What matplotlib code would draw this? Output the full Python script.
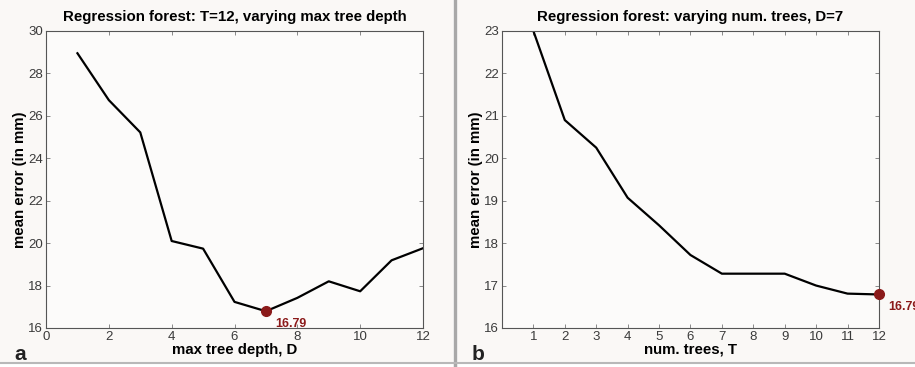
import matplotlib
matplotlib.use("Agg")
import matplotlib.pyplot as plt
from matplotlib.lines import Line2D

plt.rcParams['font.family'] = ['Liberation Sans', 'DejaVu Sans']

# Panel a data
depth = [1, 2, 3, 4, 5, 6, 7, 8, 9, 10, 11, 12]
err_depth = [28.95, 26.74, 25.22, 20.1, 19.74, 17.23, 16.79, 17.42, 18.2, 17.73, 19.19, 19.76]
# Panel b data
trees = [1, 2, 3, 4, 5, 6, 7, 8, 9, 10, 11, 12]
err_trees = [23.0, 20.9, 20.25, 19.07, 18.42, 17.72, 17.28, 17.28, 17.28, 17.0, 16.81, 16.79]

best_a = (7, 16.79)
best_b = (12, 16.79)

fig = plt.figure(figsize=(9.15, 3.67), dpi=100)
fig.patch.set_facecolor('white')

panel_bg = '#faf8f6'
fig.patches.append(plt.Rectangle((0, 0.012), 0.495, 0.988, transform=fig.transFigure,
                                 facecolor=panel_bg, edgecolor='none', zorder=-10))
fig.patches.append(plt.Rectangle((0.5, 0.012), 0.5, 0.988, transform=fig.transFigure,
                                 facecolor=panel_bg, edgecolor='none', zorder=-10))
fig.lines.append(Line2D([0.4975, 0.4975], [0.0, 1.0], transform=fig.transFigure, color='#a8a8a8', lw=2.5))
fig.lines.append(Line2D([0.0, 1.0], [0.011, 0.011], transform=fig.transFigure, color='#b8b8b8', lw=1.5))

dark_red = '#8b1a1a'
tick_col = '#3a3a3a'

def style(ax):
    ax.set_facecolor('#fcfbfa')
    for s in ax.spines.values():
        s.set_color('#555555')
        s.set_linewidth(0.8)
    ax.tick_params(direction='in', top=True, right=True, length=3, width=0.6,
                   colors='#777777', labelcolor=tick_col, labelsize=9.5, pad=2)

ax1 = fig.add_axes([0.0503, 0.1063, 0.412, 0.8093])
ax1.plot(depth, err_depth, color='black', lw=1.6)
ax1.plot([best_a[0]], [best_a[1]], 'o', color=dark_red, ms=7)
ax1.annotate(f'{best_a[1]:.2f}', best_a, xytext=(7, -11), textcoords='offset points',
             color=dark_red, fontsize=9, fontweight='bold')
ax1.set_xlim(0, 12)
ax1.set_ylim(16, 30)
ax1.set_xticks(range(0, 13, 2))
ax1.set_yticks(range(16, 31, 2))
ax1.set_title('Regression forest: T=12, varying max tree depth', fontsize=10.8, fontweight='bold', pad=7)
ax1.set_xlabel('max tree depth, D', fontsize=10.8, fontweight='bold', labelpad=0)
ax1.set_ylabel('mean error (in mm)', fontsize=10.8, fontweight='bold', labelpad=1)
style(ax1)

ax2 = fig.add_axes([0.5486, 0.1063, 0.412, 0.8093])
ax2.plot(trees, err_trees, color='black', lw=1.6)
ax2.plot([best_b[0]], [best_b[1]], 'o', color=dark_red, ms=7, clip_on=False, zorder=5)
ax2.annotate(f'{best_b[1]:.2f}', best_b, xytext=(7, -11), textcoords='offset points',
             color=dark_red, fontsize=9, fontweight='bold', annotation_clip=False)
ax2.set_xlim(0, 12)
ax2.set_ylim(16, 23)
ax2.set_xticks(range(1, 13))
ax2.set_yticks(range(16, 24))
ax2.set_title('Regression forest: varying num. trees, D=7', fontsize=10.8, fontweight='bold', pad=7)
ax2.set_xlabel('num. trees, T', fontsize=10.8, fontweight='bold', labelpad=0)
ax2.set_ylabel('mean error (in mm)', fontsize=10.8, fontweight='bold', labelpad=1)
style(ax2)

fig.text(0.022, 0.018, 'a', fontsize=15, fontweight='bold', ha='center', va='baseline', color='#222222')
fig.text(0.522, 0.018, 'b', fontsize=15, fontweight='bold', ha='center', va='baseline', color='#222222')

fig.savefig('out.png', dpi=100, facecolor=fig.get_facecolor())
